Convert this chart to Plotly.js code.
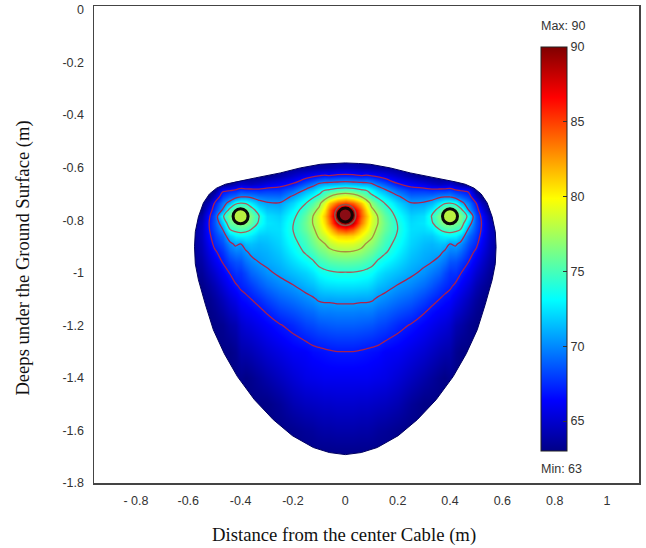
<!DOCTYPE html>
<html>
<head>
<meta charset="utf-8">
<script src="https://cdn.plot.ly/plotly-3.0.1.min.js"></script>
<style>html,body{margin:0;padding:0;background:#fff}#chart{width:646px;height:548px}</style>
</head>
<body>
<div id="chart"></div>
<script>
// depth rows (m)
var depths = [-0.56,-0.6,-0.63,-0.66,-0.69,-0.71,-0.735,-0.76,-0.785,-0.81,-0.835,-0.86,-0.89,-0.92,-0.96,-1,-1.05,-1.1,-1.15,-1.2,-1.3,-1.4,-1.5,-1.6,-1.7];
// distance columns, right half (m); the cross-section is symmetric about the centre cable
var halfDistances = [0,0.03,0.06,0.08,0.1,0.125,0.15,0.2,0.25,0.3,0.33,0.36,0.38,0.4,0.42,0.44,0.47,0.5,0.52,0.55,0.6];
// temperature, one list per distance column
var tempColumns = [
 [63,64.6,67.4,71.4,76,79.7,85,90,90,90,85,81.2,79,77.5,75.7,73.9,72.4,70.9,69.8,68.9,67,66,65,64,63],
 [63,64.5,67.3,71.2,75.7,79,84,88.5,90,88.5,84,81,78.9,77.4,75.6,73.9,72.4,70.9,69.8,68.9,67,66,65,64,63],
 [63,64.2,67,71,74.8,77.5,81.5,84,84.5,83.5,81.2,79.8,78.2,77,75.4,73.7,72.3,70.8,69.7,68.8,66.9,66,64.9,63.9,63],
 [63,64.1,67.2,70.9,74.4,76,79,80.5,81.5,80.8,79.8,78.6,77.4,76.4,75,73.5,72.2,70.8,69.7,68.7,66.8,66,64.9,63.9,63],
 [63,64,66.9,70.5,73.2,74.6,76.8,78,79,78.8,78.3,77.8,76.9,75.9,74.6,73.2,71.9,70.7,69.6,68.6,66.7,65.9,64.8,63.8,63],
 [63,63.9,66.5,69.6,72,73.6,75.2,76.5,77.4,77.5,77.1,76.6,75.9,75,73.7,72.5,71.4,70.3,69.2,68.3,66.6,65.8,64.7,63.6,63],
 [63,63.8,66,68.7,71.2,72.6,74,75,75.7,76,75.8,75.3,74.8,74.3,73.1,72,71.1,70,69,68.1,66.3,65.7,64.6,63.5,63],
 [63,63.5,65,67,69.3,70.8,72,72.9,73.5,73.9,74,73.8,73.4,72.9,72.2,71.4,70.4,69.4,68.4,67.4,66.1,65.2,64.2,63.2,63],
 [63,63,64,66.2,68,69.3,70.6,71.3,71.9,72.2,72.3,72.2,72,71.7,71.3,70.8,69.9,68.9,67.9,66.9,65.6,64.6,63.5,63,63],
 [63,63,63.2,65.6,68,69.4,70.7,71.6,72.3,72.5,72.2,71.8,71.4,71.1,70.8,70.2,69.2,68.1,67.1,66.3,65.1,64,63,63,63],
 [63,63,63,65,67.8,69.6,71.2,72.8,74.1,73.7,72.6,71.8,71.2,70.9,70.5,69.6,68.6,67.5,66.6,65.9,64.7,63.6,63,63,63],
 [63,63,63,64.6,68,70.1,72.7,75,76.4,75.8,74,72.6,71.5,70.9,69.9,69,67.9,67,66.2,65.5,64.3,63.2,63,63,63],
 [63,63,63,64.8,68,70.3,73.8,76.4,78,76.8,74.7,72.9,71.4,70.3,69.4,68.3,67.5,66.7,66,65.3,64.1,63,63,63,63],
 [63,63,63,65,68.2,70.3,74,76.5,78.5,76.8,75,73,70.5,69.7,68.6,67.7,67.2,66.5,65.7,65,64,63.2,63,63,63],
 [63,63,63,64.2,67.6,69.5,73.6,76,77.8,76.3,74.6,72.8,70.8,69.7,68.5,67.7,66.8,65.8,65,64.2,63.3,63,63,63,63],
 [63,63,63,63.5,67.3,69,71.3,74.9,76.3,75.7,74,71.8,70.1,69.1,68,67.1,66.2,65.3,64.6,63.9,63,63,63,63,63],
 [63,63,63,63,66.8,68,69.5,70.5,73.5,71.8,70.3,69.2,68.4,67.7,67,66.2,65.3,64.5,63.9,63.3,63,63,63,63,63],
 [63,63,63,63,63.4,65,67,67.9,68.6,68.6,68.3,67.9,67.4,66.7,65.9,65.1,64.3,63.7,63.3,63,63,63,63,63,63],
 [63,63,63,63,63,63,64.5,65.8,66.7,67,66.9,66.6,66.1,65.6,65,64.4,63.7,63.2,63,63,63,63,63,63,63],
 [63,63,63,63,63,63,63,63.2,64,64.5,64.7,64.7,64.5,64.3,63.9,63.5,63.1,63,63,63,63,63,63,63,63],
 [63,63,63,63,63,63,63,63,63,63,63,63,63,63,63,63,63,63,63,63,63,63,63,63,63]
];
// outline of the coloured region, left half, top to bottom
var outlineX = [0,-0.05,-0.095,-0.172,-0.248,-0.344,-0.42,-0.458,-0.492,-0.519,-0.542,-0.561,-0.573,-0.576,-0.573,-0.561,-0.534,-0.504,-0.462,-0.412,-0.347,-0.275,-0.202,-0.122,-0.061,0];
var outlineY = [-0.582,-0.584,-0.587,-0.601,-0.62,-0.639,-0.654,-0.663,-0.678,-0.7,-0.734,-0.787,-0.844,-0.901,-0.966,-1.027,-1.122,-1.217,-1.308,-1.395,-1.483,-1.559,-1.62,-1.665,-1.684,-1.692];
// cables
var sideCableX = [-0.4,0.4];
var sideCableY = [-0.785,-0.785];
var centreCableX = [0];
var centreCableY = [-0.78];
var contourLevels = {start:67,end:77.5,size:3.5};
var xTickVals = [-0.8,-0.6,-0.4,-0.2,0,0.2,0.4,0.6,0.8,1];
var xTickText = ['- 0.8','-0.6','-0.4','-0.2','0','0.2','0.4','0.6','0.8','1'];
var yTickVals = [0,-0.2,-0.4,-0.6,-0.8,-1,-1.2,-1.4,-1.6,-1.8];
var yTickText = ['0','-0.2','-0.4','-0.6','-0.8','-1','-1.2','-1.4','-1.6','-1.8'];
var cbTickVals = [65,70,75,80,85,90];

var jet = [[0,'rgb(0,0,135)'],[0.125,'rgb(0,0,255)'],[0.375,'rgb(0,255,255)'],[0.625,'rgb(255,255,0)'],[0.875,'rgb(255,0,0)'],[1,'rgb(128,0,0)']];

var xs = [], order = [];
for (var i = halfDistances.length-1; i > 0; i--) { xs.push(-halfDistances[i]); order.push(i); }
for (i = 0; i < halfDistances.length; i++) { xs.push(halfDistances[i]); order.push(i); }
var zs = depths.map(function(_, r){ return order.map(function(c){ return tempColumns[c][r]; }); });

var W = 646, H = 548, sans = 'Liberation Sans, Arial, sans-serif', serif = 'Liberation Serif, Times New Roman, serif';

var fullOutX = outlineX.concat(outlineX.slice(0,-1).reverse().map(function(v){return -v;}));
var fullOutY = outlineY.concat(outlineY.slice(0,-1).reverse());
var maskX = fullOutX.concat([0,-2,-2,2,2,0,0]);
var maskY = fullOutY.concat([-2.2,-2.2,1,1,-2.2,-2.2,-1.692]);

var traces = [
 {type:'heatmap',x:xs,y:depths,z:zs,zmin:63,zmax:90,zsmooth:'best',colorscale:jet,hoverinfo:'skip',
  colorbar:{x:(541-93.5)/545.5,xanchor:'left',y:(483-47)/477,yanchor:'top',
    lenmode:'pixels',len:404,thicknessmode:'pixels',thickness:26,xpad:0,ypad:0,
    outlinecolor:'#222',outlinewidth:1,borderwidth:0,
    tickmode:'array',tickvals:cbTickVals,ticktext:cbTickVals.map(String),ticks:'inside',ticklen:4,tickcolor:'#333',
    tickfont:{family:sans,size:12.5,color:'#333'}}},
 {type:'contour',x:xs,y:depths,z:zs,autocontour:false,contours:Object.assign({coloring:'lines',showlabels:false},contourLevels),
  zmin:67,zmax:77.5,showscale:false,hoverinfo:'skip',
  colorscale:[[0,'#a8204e'],[0.34,'#b0204a'],[0.67,'#a8605e'],[1,'#a89040']],
  line:{width:1.3,smoothing:1}},
 {type:'scatter',mode:'none',x:maskX,y:maskY,fill:'toself',fillcolor:'#ffffff',hoverinfo:'skip',showlegend:false},
 {type:'scatter',mode:'lines',x:fullOutX,y:fullOutY,line:{color:'#000060',width:1},hoverinfo:'skip',showlegend:false},
 {type:'scatter',mode:'markers',x:sideCableX,y:sideCableY,hoverinfo:'skip',showlegend:false,
  marker:{symbol:'circle',size:15,color:'#b8f040',line:{color:'#0a0a0a',width:3}}},
 {type:'scatter',mode:'markers',x:centreCableX,y:centreCableY,hoverinfo:'skip',showlegend:false,
  marker:{symbol:'circle-open',size:21,line:{color:'#f4e8e0',width:1.5}}},
 {type:'scatter',mode:'markers',x:centreCableX,y:centreCableY,hoverinfo:'skip',showlegend:false,
  marker:{symbol:'circle',size:14,color:'#8a0c14',line:{color:'#140404',width:3}}}
];

var tf = {family:sans,size:12.5,color:'#333'};
var layout = {
 width:W,height:H,paper_bgcolor:'#fff',plot_bgcolor:'#fff',showlegend:false,
 margin:{l:93.5,r:7,t:6,b:65,pad:0,autoexpand:false},
 xaxis:{range:[-0.96,1.122],tickmode:'array',tickvals:xTickVals,ticktext:xTickText,ticks:'',showgrid:false,zeroline:false,
   showline:true,mirror:true,linecolor:'#444',linewidth:1.5,ticklabelstandoff:5,tickfont:tf},
 yaxis:{range:[-1.8,0.0152],tickmode:'array',tickvals:yTickVals,ticktext:yTickText,ticks:'',showgrid:false,zeroline:false,
   showline:true,mirror:true,linecolor:'#444',linewidth:1.5,ticklabelstandoff:6,tickfont:tf},
 annotations:[
  {text:'Max: 90',xref:'x',yref:'y',x:0.748,y:-0.062,xanchor:'left',yanchor:'middle',showarrow:false,xshift:-2,font:tf},
  {text:'Min: 63',xref:'x',yref:'y',x:0.748,y:-1.745,xanchor:'left',yanchor:'middle',showarrow:false,xshift:-2,font:tf},
  {text:'Distance from the center Cable (m)',xref:'paper',yref:'paper',x:(343.5-93.5)/545.5,y:(483-535)/477,xanchor:'center',yanchor:'middle',showarrow:false,font:{family:serif,size:18.7,color:'#111'}},
  {text:'Deeps under the Ground Surface (m)',xref:'paper',yref:'paper',x:(22-93.5)/545.5,y:(483-258)/477,xanchor:'center',yanchor:'middle',textangle:-90,showarrow:false,font:{family:serif,size:18.6,color:'#111'}}
 ]
};
Plotly.newPlot('chart',traces,layout,{displayModeBar:false,staticPlot:true});
</script>
</body>
</html>
